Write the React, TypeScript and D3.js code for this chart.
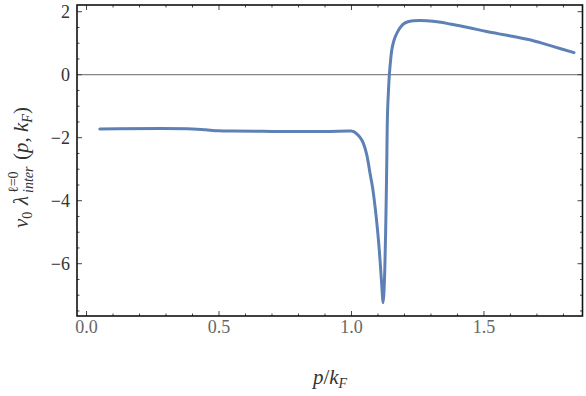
import React from "react";
import * as d3 from "d3";

// p / k_F
const pValues = [
  0.05, 0.4, 0.45, 0.5, 0.55, 0.7, 0.9, 1.0, 1.007, 1.02, 1.035, 1.045, 1.058,
  1.07, 1.08, 1.089, 1.098, 1.105, 1.112, 1.116, 1.119, 1.122, 1.126, 1.13,
  1.133, 1.136, 1.14, 1.143, 1.147, 1.152, 1.16, 1.171, 1.183, 1.196, 1.213,
  1.233, 1.26, 1.284, 1.33, 1.372, 1.44, 1.51, 1.6, 1.686, 1.76, 1.84,
];
// nu0 * lambda_inter^{l=0}(p, k_F)
const lambdaValues = [
  -1.72, -1.72, -1.75, -1.78, -1.79, -1.8, -1.8, -1.79, -1.8, -1.88, -2.02,
  -2.18, -2.55, -3.13, -3.6, -4.19, -4.9, -5.57, -6.4, -6.9, -7.24, -7.0, -6.1,
  -4.5, -2.92, -1.23, -0.45, 0, 0.4, 0.78, 1.08, 1.31, 1.49, 1.61, 1.68, 1.71,
  1.72, 1.71, 1.67, 1.61, 1.5, 1.37, 1.23, 1.08, 0.9, 0.7,
];
const xMajor = [0, 0.5, 1.0, 1.5];
const yMajor = [-6, -4, -2, 0, 2];

const W = 586;
const H = 396;
const frame = { left: 77, right: 582.5, top: 5, bottom: 316 };

const App = () => {
  const x = d3.scaleLinear().domain([-0.036, 1.872]).range([frame.left, frame.right]);
  const y = d3.scaleLinear().domain([-7.66, 2.213]).range([frame.bottom, frame.top]);

  const pts = pValues.map((p, i) => [p, lambdaValues[i]] as [number, number]);
  const line = d3
    .line<[number, number]>()
    .x(d => x(d[0]))
    .y(d => y(d[1]))
    .curve(d3.curveCatmullRom.alpha(0.5));

  const xMinor = d3.range(0, 19).map(i => i / 10).filter(v => !xMajor.some(m => Math.abs(m - v) < 1e-9));
  const yMinor = d3.range(-15, 5).map(i => i / 2).filter(v => !yMajor.includes(v));

  const fmtY = (v: number) => (v < 0 ? "\u2212" + Math.abs(v) : String(v));
  const tickCol = "#444";
  const font = '"Liberation Serif", "Times New Roman", serif';

  return (
    <div style={{ position: "absolute", left: 0, top: 0 }}>
      <svg width={W} height={H} style={{ display: "block", background: "#fff", fontFamily: font }}>
        <defs>
          <clipPath id="plotClip">
            <rect x={frame.left} y={frame.top} width={frame.right - frame.left} height={frame.bottom - frame.top} />
          </clipPath>
        </defs>

        {/* zero line */}
        <line x1={frame.left} x2={frame.right} y1={y(0)} y2={y(0)} stroke="#555" strokeWidth={0.9} />

        {/* curve */}
        <path
          d={line(pts) || ""}
          fill="none"
          stroke="#5e81b5"
          strokeWidth={3}
          strokeLinejoin="round"
          strokeLinecap="round"
          clipPath="url(#plotClip)"
        />

        {/* ticks, inward on all sides */}
        {xMajor.map(v => (
          <g key={"xM" + v}>
            <line x1={x(v)} x2={x(v)} y1={frame.bottom} y2={frame.bottom - 5} stroke={tickCol} />
            <line x1={x(v)} x2={x(v)} y1={frame.top} y2={frame.top + 5} stroke={tickCol} />
          </g>
        ))}
        {xMinor.map(v => (
          <g key={"xm" + v}>
            <line x1={x(v)} x2={x(v)} y1={frame.bottom} y2={frame.bottom - 2.5} stroke={tickCol} />
            <line x1={x(v)} x2={x(v)} y1={frame.top} y2={frame.top + 2.5} stroke={tickCol} />
          </g>
        ))}
        {yMajor.map(v => (
          <g key={"yM" + v}>
            <line x1={frame.left} x2={frame.left + 5} y1={y(v)} y2={y(v)} stroke={tickCol} />
            <line x1={frame.right} x2={frame.right - 5} y1={y(v)} y2={y(v)} stroke={tickCol} />
          </g>
        ))}
        {yMinor.map(v => (
          <g key={"ym" + v}>
            <line x1={frame.left} x2={frame.left + 2.5} y1={y(v)} y2={y(v)} stroke={tickCol} />
            <line x1={frame.right} x2={frame.right - 2.5} y1={y(v)} y2={y(v)} stroke={tickCol} />
          </g>
        ))}

        {/* frame */}
        <rect
          x={frame.left}
          y={frame.top}
          width={frame.right - frame.left}
          height={frame.bottom - frame.top}
          fill="none"
          stroke="#111"
          strokeWidth={1.6}
        />

        {/* tick labels */}
        {xMajor.map(v => (
          <text key={"xl" + v} x={x(v)} y={333} textAnchor="middle" fontSize={18} fill="#666">
            {v.toFixed(1)}
          </text>
        ))}
        {yMajor.map(v => (
          <text key={"yl" + v} x={70} y={y(v) + 6} textAnchor="end" fontSize={18} fill="#333">
            {fmtY(v)}
          </text>
        ))}

        {/* x axis label */}
        <text x={330} y={384} textAnchor="middle" fontSize={21} fill="#333">
          <tspan fontStyle="italic">p</tspan>
          <tspan>/</tspan>
          <tspan fontStyle="italic">k</tspan>
          <tspan fontStyle="italic" fontSize={14} dy={4}>F</tspan>
        </text>

        {/* y axis label */}
        <g transform="translate(28,158) rotate(-90)" fill="#333">
          <text x={-70} y={0} fontSize={21}>
            <tspan fontStyle="italic">ν</tspan>
            <tspan fontSize={14} dy={4}>0</tspan>
          </text>
          <text x={-47} y={0} fontSize={21} fontStyle="italic">λ</text>
          <text x={-35} y={-10} fontSize={14}>ℓ=0</text>
          <text x={-35} y={5} fontSize={14} fontStyle="italic">inter</text>
          <text x={-2} y={0} fontSize={21}>
            <tspan>(</tspan>
            <tspan fontStyle="italic">p</tspan>
            <tspan>, </tspan>
            <tspan fontStyle="italic">k</tspan>
            <tspan fontStyle="italic" fontSize={14} dy={4}>F</tspan>
            <tspan dy={-4}>)</tspan>
          </text>
        </g>
      </svg>
    </div>
  );
};

export default App;
